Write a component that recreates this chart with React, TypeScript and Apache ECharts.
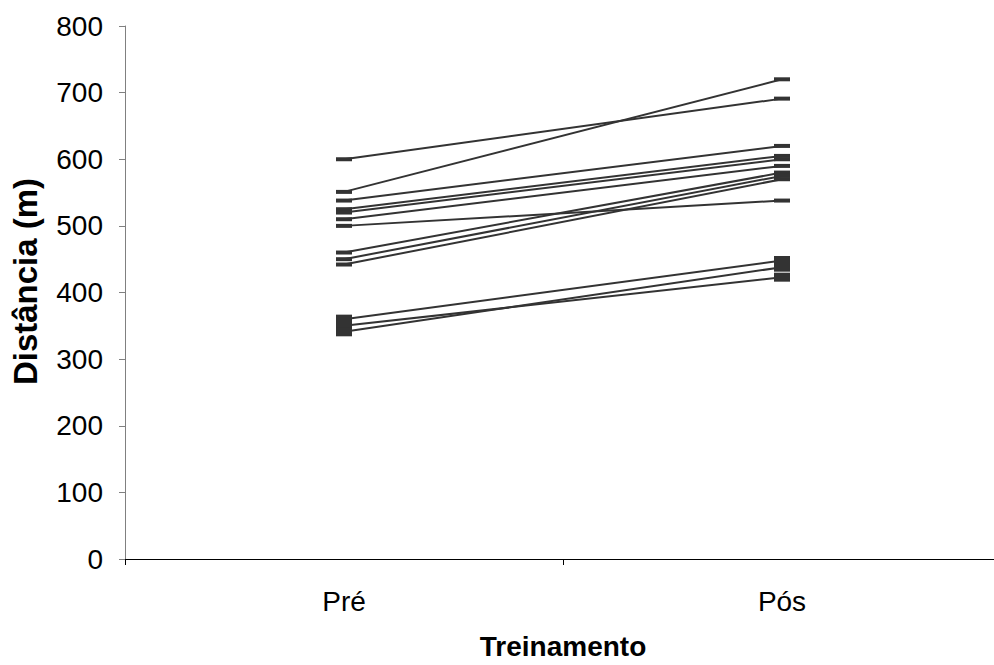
import React, { useEffect, useRef } from "react";
import * as echarts from "echarts";

const categories = ["Pré", "Pós"];
const preValues = [600, 551, 538, 525, 520, 510, 500, 460, 450, 442, 360, 350, 341];
const posValues = [691, 720, 620, 605, 600, 590, 538, 580, 575, 570, 448, 423, 438];
const yTicks = { min: 0, max: 800, interval: 100 };

export default function App() {
  const ref = useRef<HTMLDivElement>(null);
  useEffect(() => {
    document.body.style.margin = "0";
    document.body.style.overflow = "hidden";
    const chart = echarts.init(ref.current!, null, { renderer: "svg" });
    const font = "'Liberation Sans', Arial, sans-serif";
    const series = preValues.map((p, i) => ({
      type: "line",
      data: [p, posValues[i]],
      symbol: "rect",
      symbolSize: i >= 10 ? [16, 9] : [16, 4],
      lineStyle: { color: "#333333", width: 2 },
      itemStyle: { color: "#333333" },
      z: 2,
    }));
    chart.setOption({
      animation: false,
      backgroundColor: "#ffffff",
      grid: { left: 125, top: 26, width: 876, height: 535 },
      xAxis: {
        type: "category",
        data: categories,
        boundaryGap: true,
        name: "Treinamento",
        nameLocation: "middle",
        nameGap: 73,
        nameTextStyle: { fontFamily: font, fontSize: 28, fontWeight: "bold", color: "#000" },
        axisLine: { lineStyle: { color: "#000", width: 1 } },
        axisTick: { show: true, length: 6, alignWithLabel: false, lineStyle: { color: "#000" } },
        axisLabel: { fontFamily: font, fontSize: 28, color: "#000", margin: 28 },
        splitLine: { show: false },
      },
      yAxis: {
        type: "value",
        min: yTicks.min,
        max: yTicks.max,
        interval: yTicks.interval,
        name: "Distância (m)",
        nameLocation: "middle",
        nameGap: 83,
        nameTextStyle: { fontFamily: font, fontSize: 33, fontWeight: "bold", color: "#000", padding: [0, 0, 0, 22] },
        axisLine: { show: true, lineStyle: { color: "#808080", width: 1 } },
        axisTick: { show: true, length: 6, lineStyle: { color: "#808080" } },
        axisLabel: { fontFamily: font, fontSize: 28, color: "#000", margin: 22 },
        splitLine: { show: false },
      },
      series,
    });
    return () => chart.dispose();
  }, []);
  return <div ref={ref} style={{ width: 1001, height: 665, position: "fixed", left: 0, top: 0 }} />;
}
